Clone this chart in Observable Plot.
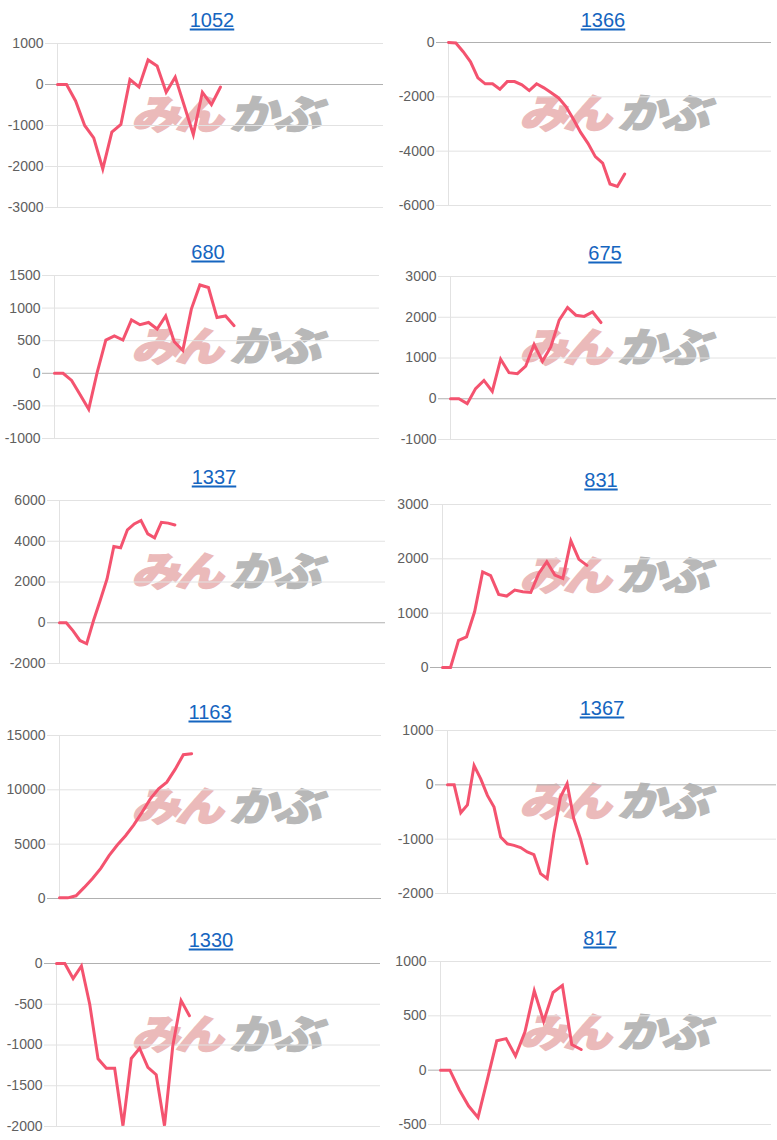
<!DOCTYPE html>
<html>
<head>
<meta charset="utf-8">
<script src="https://cdn.jsdelivr.net/npm/d3@7"></script>
<script src="https://cdn.jsdelivr.net/npm/@observablehq/plot@0.6"></script>
<style>
  html, body { margin: 0; padding: 0; background: #fff; }
  #root { position: relative; width: 777px; height: 1140px; overflow: hidden; font-family: "Liberation Sans", Arial, sans-serif; }
  .title { position: absolute; font-size: 20px; color: #1565c0; text-decoration: underline; text-underline-offset: 2px; transform: translate(-50%, -50%); white-space: nowrap; cursor: pointer; z-index: 2; }
  .wm { position: absolute; font-family: "Noto Sans CJK JP", sans-serif; font-weight: 900; font-size: 48px; line-height: 1; white-space: nowrap; transform: skewX(-16deg) scaleY(0.84); transform-origin: left top; letter-spacing: -4px; z-index: 0; }
  .wm .a { color: #ebbaba; -webkit-text-stroke: 2px #ebbaba; }
  .wm .b { margin-left: 10px; color: #b8b8b8; -webkit-text-stroke: 1.5px #b8b8b8; }
</style>
</head>
<body>
<div id="root"></div>
<script>
// ---- data ----
const titles = ["1052", "1366", "680", "675", "1337", "831", "1163", "1367", "1330", "817"];

const v1052 = [0, 0, -400, -1000, -1300, -2060, -1160, -975, 120, -60, 600, 450, -190, 180, -520, -1220, -190, -490, -60];
const v1366 = [0, -20, -340, -710, -1300, -1520, -1520, -1720, -1440, -1440, -1560, -1770, -1520, -1670, -1850, -2040, -2360, -2820, -3310, -3710, -4200, -4440, -5210, -5300, -4840];
const v680  = [0, 0, -110, -330, -550, 20, 510, 575, 510, 820, 745, 780, 680, 880, 485, 350, 985, 1355, 1315, 855, 880, 730];
const v675  = [0, 0, -120, 250, 450, 180, 970, 640, 615, 800, 1330, 920, 1270, 1930, 2240, 2050, 2020, 2130, 1870];
const v1337 = [0, 0, -400, -870, -1030, 100, 1100, 2150, 3740, 3680, 4560, 4850, 5020, 4360, 4170, 4930, 4890, 4800];
const v831  = [0, 0, 500, 565, 1025, 1760, 1690, 1345, 1315, 1425, 1395, 1380, 1730, 1945, 1700, 1640, 2330, 1990, 1880];
const v1163 = [60, 60, 250, 1020, 1850, 2770, 3940, 4920, 5780, 6770, 7940, 9170, 10100, 10710, 11880, 13230, 13330];
const v1367 = [0, 0, -515, -370, 355, 110, -195, -410, -960, -1085, -1115, -1155, -1235, -1285, -1635, -1725, -900, -225, 20, -625, -990, -1450];
const v1330 = [0, 0, -185, -30, -500, -1170, -1285, -1285, -1990, -1165, -1040, -1275, -1365, -1990, -1010, -455, -640];
const v817  = [0, 0, -180, -330, -435, -85, 270, 290, 130, 350, 730, 450, 715, 780, 235, 190];

const ticks1052 = [-3000, -2000, -1000, 0, 1000];
const ticks1366 = [-6000, -4000, -2000, 0];
const ticks680  = [-1000, -500, 0, 500, 1000, 1500];
const ticks675  = [-1000, 0, 1000, 2000, 3000];
const ticks1337 = [-2000, 0, 2000, 4000, 6000];
const ticks831  = [0, 1000, 2000, 3000];
const ticks1163 = [0, 5000, 10000, 15000];
const ticks1367 = [-2000, -1000, 0, 1000];
const ticks1330 = [-2000, -1500, -1000, -500, 0];
const ticks817  = [-500, 0, 500, 1000];

const seriesList = [v1052, v1366, v680, v675, v1337, v831, v1163, v1367, v1330, v817];
const tickList = [ticks1052, ticks1366, ticks680, ticks675, ticks1337, ticks831, ticks1163, ticks1367, ticks1330, ticks817];
// number of x slots on each chart's axis
const xSlots = [36, 44, 38, 39, 48, 41, 39, 49.5, 39, 35.3];

// ---- layout (pixels) ----
const PW = 388;
const layout = [
  {col: 0, left: 57, right: 383, top: 43,    bottom: 207,  tx: 212, ty: 20},
  {col: 1, left: 60, right: 383, top: 41.7,  bottom: 204.7, tx: 603, ty: 20},
  {col: 0, left: 54, right: 379, top: 275,   bottom: 438,  tx: 208, ty: 252},
  {col: 1, left: 62, right: 388, top: 276,   bottom: 439,  tx: 605, ty: 253},
  {col: 0, left: 59, right: 385, top: 500,   bottom: 663,  tx: 214, ty: 477},
  {col: 1, left: 54, right: 383, top: 504,   bottom: 667,  tx: 601, ty: 480},
  {col: 0, left: 59, right: 381, top: 735,   bottom: 898,  tx: 210, ty: 712},
  {col: 1, left: 59, right: 388, top: 730,   bottom: 893,  tx: 602, ty: 708},
  {col: 0, left: 56, right: 380, top: 963,   bottom: 1126, tx: 211, ty: 940},
  {col: 1, left: 52, right: 383, top: 961,   bottom: 1124, tx: 600, ty: 938}
];

const root = document.getElementById("root");
const MT = 10, MB = 10;

titles.forEach((name, k) => {
  const L = layout[k];
  const values = seriesList[k];
  const ticks = tickList[k];
  const x0 = L.col * PW;
  const rows = values.map((v, i) => ({i, v}));
  const yDomain = [d3.min(ticks), d3.max(ticks)];

  // watermark (behind the chart)
  const wm = document.createElement("div");
  wm.className = "wm";
  wm.style.left = (x0 + 142) + "px";
  wm.style.top = (L.top + 48) + "px";
  wm.innerHTML = '<span class="a">みん</span><span class="b">かぶ</span>';
  root.appendChild(wm);

  const chart = Plot.plot({
    width: PW,
    height: (L.bottom - L.top) + MT + MB,
    marginTop: MT,
    marginBottom: MB,
    marginLeft: L.left,
    marginRight: PW - L.right,
    style: {background: "transparent", fontFamily: "'Liberation Sans', Arial, sans-serif", fontSize: "14px", overflow: "visible"},
    x: {domain: [0, xSlots[k]], axis: null},
    y: {domain: yDomain, axis: null},
    marks: [
      Plot.ruleY(ticks.filter(t => t !== 0), {stroke: "#e2e2e2", strokeWidth: 1, insetLeft: -12}),
      Plot.ruleX([0], {stroke: "#e2e2e2", strokeWidth: 1}),
      Plot.ruleY(ticks.filter(t => t === 0), {stroke: "#b0b0b0", strokeWidth: 1, insetLeft: -12}),
      Plot.axisY(ticks, {tickSize: 0, tickPadding: 14, tickFormat: d => String(d), fontSize: 14, color: "#606060", label: null}),
      Plot.line(rows, {x: "i", y: "v", stroke: "#f4536f", strokeWidth: 3, strokeLinejoin: "miter", strokeMiterlimit: 6})
    ]
  });
  chart.style.position = "absolute";
  chart.style.zIndex = "1";
  chart.style.margin = "0";
  chart.style.maxWidth = "none";
  chart.style.left = x0 + "px";
  chart.style.top = (L.top - MT) + "px";
  root.appendChild(chart);

  const t = document.createElement("a");
  t.className = "title";
  t.textContent = name;
  t.style.left = L.tx + "px";
  t.style.top = L.ty + "px";
  root.appendChild(t);
});
</script>
</body>
</html>
